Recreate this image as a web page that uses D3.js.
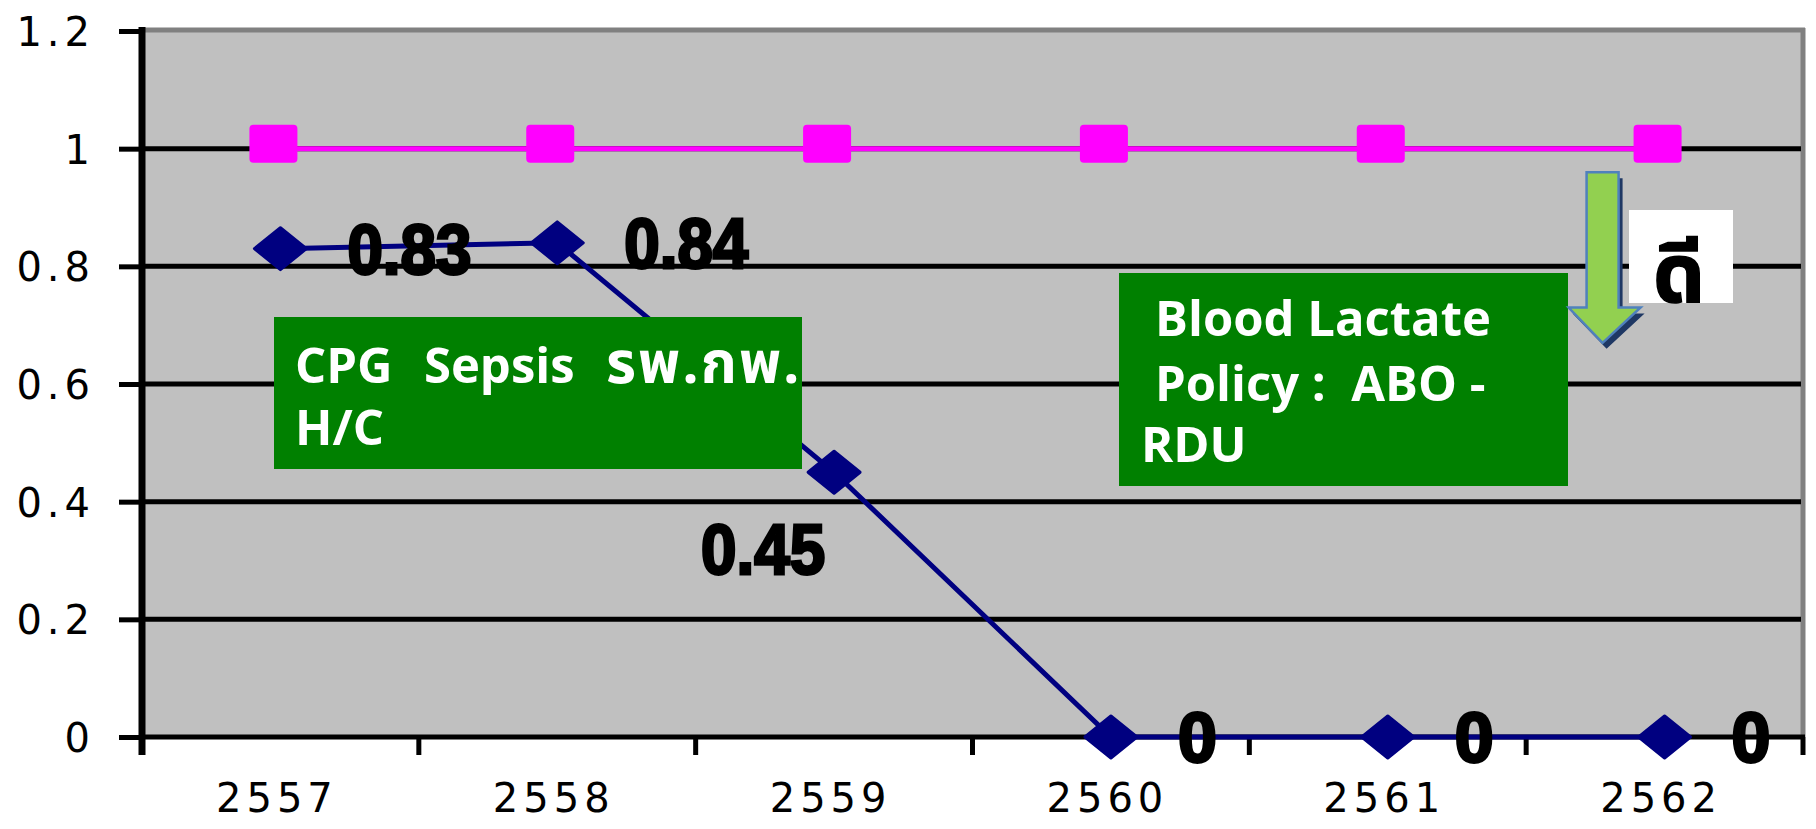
<!DOCTYPE html>
<html>
<head>
<meta charset="utf-8">
<script src="https://cdn.jsdelivr.net/npm/d3@7"></script>
<style>
  html, body { margin: 0; padding: 0; background: #ffffff; }
  svg { display: block; }
</style>
</head>
<body>
<svg id="chart" width="1816" height="829"></svg>
<script>
// Fiscal years (Buddhist Era) on the category axis
const years = ["2557", "2558", "2559", "2560", "2561", "2562"];
// Measured rate per year
const rateValues = [0.83, 0.84, 0.45, 0, 0, 0];
// Target line per year
const targetValues = [1, 1, 1, 1, 1, 1];
// Value-axis ticks
const yTicks = [0, 0.2, 0.4, 0.6, 0.8, 1.0, 1.2];
// Where each value label sits relative to its point
const labelPlacement = ["right", "right", "belowLeft", "right", "right", "right"];

const svg = d3.select("#chart");
const plot = { left: 142, right: 1803, top: 31, bottom: 737 };

const x = d3.scaleBand().domain(years).range([plot.left, plot.right]);
const y = d3.scaleLinear().domain([0, 1.2]).range([plot.bottom, plot.top]);
const cx = d => x(d) + x.bandwidth() / 2;

const axisFont = "'DejaVu Sans', Verdana, sans-serif";
const axisSpacing = 5;

// Plot background
svg.append("rect")
  .attr("x", plot.left).attr("y", plot.top - 2)
  .attr("width", plot.right - plot.left).attr("height", plot.bottom - plot.top + 2)
  .attr("fill", "#c0c0c0");
// Top and right frame
svg.append("line").attr("x1", plot.left).attr("x2", plot.right + 2)
  .attr("y1", plot.top - 1).attr("y2", plot.top - 1)
  .attr("stroke", "#808080").attr("stroke-width", 5);
svg.append("line").attr("x1", plot.right).attr("x2", plot.right)
  .attr("y1", plot.top - 3).attr("y2", plot.bottom)
  .attr("stroke", "#808080").attr("stroke-width", 5);

// Horizontal gridlines
svg.append("g")
  .selectAll("line")
  .data(yTicks.filter(t => t > 0 && t < 1.2))
  .join("line")
  .attr("x1", plot.left).attr("x2", plot.right - 2)
  .attr("y1", d => y(d)).attr("y2", d => y(d))
  .attr("stroke", "#000").attr("stroke-width", 5);

// Value axis
const yAxis = svg.append("g")
  .attr("transform", `translate(${plot.left},0)`)
  .call(d3.axisLeft(y).tickValues(yTicks).tickSize(23).tickPadding(24)
    .tickFormat(d => d === 0 ? "0" : (d === 1 ? "1" : d3.format(".1f")(d))));
yAxis.select(".domain").remove();
yAxis.selectAll(".tick line").attr("stroke", "#000").attr("stroke-width", 5);
yAxis.selectAll(".tick text")
  .attr("fill", "#000")
  .style("font-family", axisFont)
  .style("font-size", "40px")
  .style("letter-spacing", axisSpacing + "px")
  .attr("dy", "0.36em");
svg.append("line").attr("x1", plot.left).attr("x2", plot.left)
  .attr("y1", plot.top - 4).attr("y2", plot.bottom + 18)
  .attr("stroke", "#000").attr("stroke-width", 7);

// Category axis
const xAxis = svg.append("g")
  .attr("transform", `translate(0,${plot.bottom})`)
  .call(d3.axisBottom(x).tickSize(0).tickPadding(47));
xAxis.select(".domain").remove();
xAxis.selectAll(".tick text")
  .attr("fill", "#000")
  .attr("dx", axisSpacing / 2 - 6)
  .style("font-family", axisFont)
  .style("font-size", "40px")
  .style("letter-spacing", axisSpacing + "px");
const bounds = years.map(d => x(d)).concat([plot.right]);
svg.append("g").selectAll("line").data(bounds).join("line")
  .attr("x1", d => d).attr("x2", d => d)
  .attr("y1", plot.bottom).attr("y2", plot.bottom + 18)
  .attr("stroke", "#000").attr("stroke-width", 5);
svg.append("line").attr("x1", plot.left).attr("x2", plot.right + 2)
  .attr("y1", plot.bottom).attr("y2", plot.bottom)
  .attr("stroke", "#000").attr("stroke-width", 5);

// Target series (magenta, square markers)
const targetShift = -7;
svg.append("path")
  .datum(targetValues)
  .attr("fill", "none").attr("stroke", "#ff00ff").attr("stroke-width", 5)
  .attr("d", d3.line().x((d, i) => cx(years[i]) + targetShift).y(d => y(d)));
svg.append("g").selectAll("rect").data(targetValues).join("rect")
  .attr("x", (d, i) => cx(years[i]) + targetShift - 24)
  .attr("y", d => y(d) - 24)
  .attr("width", 48).attr("height", 38).attr("rx", 4)
  .attr("fill", "#ff00ff");

// Rate series (navy, diamond markers)
svg.append("path")
  .datum(rateValues)
  .attr("fill", "none").attr("stroke", "#000080").attr("stroke-width", 5)
  .attr("d", d3.line().x((d, i) => cx(years[i])).y(d => y(d)));
svg.append("g").selectAll("path").data(rateValues).join("path")
  .attr("fill", "#000080").attr("stroke", "#000080").attr("stroke-width", 3)
  .attr("stroke-linejoin", "round")
  .attr("d", (d, i) => {
    const px = cx(years[i]), py = y(d);
    return `M${px - 26},${py} L${px},${py - 21} L${px + 26},${py} L${px},${py + 21} Z`;
  });

// Value labels: heavy, tightly packed digits
const labelOffset = {
  right: { dx: 67, dy: 0 },
  belowLeft: { dx: -133, dy: 77 }
};
svg.append("g").selectAll("text").data(rateValues).join("text")
  .attr("x", (d, i) => cx(years[i]) + labelOffset[labelPlacement[i]].dx)
  .attr("y", (d, i) => y(d) + labelOffset[labelPlacement[i]].dy)
  .attr("dy", "0.36em")
  .attr("fill", "#000")
  .attr("stroke", "#000").attr("stroke-width", 3)
  .style("font-family", "'Liberation Sans', Arial, sans-serif")
  .style("font-weight", "bold")
  .style("font-size", "70px")
  .each(function (d) {
    if (d !== 0) d3.select(this).attr("textLength", 124).attr("lengthAdjust", "spacingAndGlyphs");
  })
  .text(d => d === 0 ? "0" : d3.format(".2f")(d));

// Annotation boxes
const boxFont = "'Open Sans', Tahoma, 'Noto Sans Thai', 'Noto Sans', sans-serif";
function noteBox(bx, by, bw, bh, lines, tx, baselines) {
  const g = svg.append("g");
  g.append("rect").attr("x", bx).attr("y", by).attr("width", bw).attr("height", bh)
    .attr("fill", "#008000");
  lines.forEach((parts, i) => {
    const t = g.append("text")
      .attr("x", tx[i]).attr("y", baselines[i])
      .attr("fill", "#fff")
      .style("font-family", boxFont)
      .style("font-weight", "bold")
      .style("font-size", "49px")
      .style("white-space", "pre");
    parts.forEach(p => {
      t.append("tspan")
        .style("font-size", (p.size || 49) + "px")
        .style("letter-spacing", (p.spacing || 0) + "px")
        .style("word-spacing", (p.wordSpacing || 0) + "px")
        .text(p.text);
    });
  });
}
noteBox(274, 317, 528, 152,
  [[{ text: "CPG  Sepsis  ", wordSpacing: 3 }, { text: "รพ.กพ.", size: 58, spacing: 2 }], [{ text: "H/C" }]],
  [295, 295], [383, 445]);
noteBox(1119, 273, 449, 213,
  [[{ text: "Blood Lactate" }], [{ text: "Policy :  ABO -" }], [{ text: "RDU" }]],
  [1155, 1155, 1141], [336, 401, 462]);

// "Lower is better" arrow
function arrowPath(ox, oy) {
  const sx = cx("2562") - 62 + ox;
  const top = y(0.96) + oy, neck = y(0.73) + oy, tip = y(0.67) + oy;
  return `M${sx - 16},${top} L${sx + 16},${top} L${sx + 16},${neck} L${sx + 38},${neck} ` +
         `L${sx},${tip} L${sx - 34},${neck} L${sx - 16},${neck} Z`;
}
svg.append("path").attr("d", arrowPath(4, 6)).attr("fill", "#1f3864");
svg.append("path").attr("d", arrowPath(0, 0))
  .attr("fill", "#92d050").attr("stroke", "#4f81bd").attr("stroke-width", 2.5);

svg.append("rect").attr("x", 1629).attr("y", 210).attr("width", 104).attr("height", 93)
  .attr("fill", "#fff");
svg.append("text")
  .attr("x", 1679).attr("y", 302)
  .attr("text-anchor", "middle")
  .attr("fill", "#000")
  .attr("stroke", "#000").attr("stroke-width", 1.5)
  .style("font-family", boxFont)
  .style("font-weight", "bold")
  .style("font-size", "82px")
  .text("ดี");
</script>
</body>
</html>
